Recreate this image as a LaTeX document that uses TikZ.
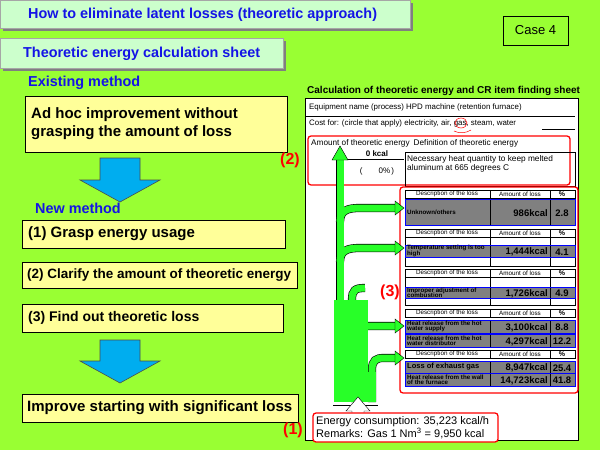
\documentclass[tikz,border=0pt]{standalone}
\usepackage{fontspec}
\setmainfont{Liberation Sans}
\usetikzlibrary{arrows.meta}
\definecolor{bg}{RGB}{153,255,51}
\definecolor{mint}{RGB}{204,255,204}
\definecolor{lyel}{RGB}{255,255,153}
\definecolor{tblue}{RGB}{20,20,230}
\definecolor{pipe}{RGB}{40,255,40}
\definecolor{cellg}{RGB}{128,128,128}
\newcommand{\fs}[1]{\fontsize{#1}{#1}\selectfont}
\tikzset{
 titlebox/.style={draw=gray!70,fill=mint,line width=0.6pt},
 stepbox/.style={draw=black,fill=lyel,line width=0.6pt},
 bluetxt/.style={text=tblue,font=\fs{14.4}\bfseries,anchor=west,inner sep=0},
 steptxt/.style={font=\fs{15}\bfseries,anchor=west,inner sep=0},
 redbox/.style={draw=red,line width=1.3pt,rounded corners=3pt},
 redlab/.style={text=red,font=\fs{16}\bfseries,inner sep=0},
 small/.style={font=\fs{7.9},anchor=west,inner sep=0},
 hdr/.style={font=\fs{6.3},inner sep=0},
 cell/.style={font=\fs{6.2}\bfseries,anchor=west,inner sep=0,align=left},
 val/.style={font=\fs{9.5}\bfseries,inner sep=0},
 downarrow/.style={draw=gray!60!black,fill=cyan,line width=0.6pt},
 pipeline/.style={pipe,line width=7pt},
}
\begin{document}
\begin{tikzpicture}[x=1pt,y=-1pt]
\useasboundingbox (0,0) rectangle (600,450);
\fill[bg] (0,0) rectangle (600,450);
% title boxes
\fill[gray] (3,3) rectangle (413,31);
\draw[titlebox] (0,0) rectangle (410,28);
\node[bluetxt] (t1) at (28,15) {How to eliminate latent losses (theoretic approach)};
\fill[gray] (3,41) rectangle (286,71);
\draw[titlebox] (0,38) rectangle (283,68);
\node[bluetxt] (t2) at (23,54) {Theoretic energy calculation sheet};
\draw[line width=0.8pt] (503,16) rectangle (568,45);
\node[font=\fs{13},inner sep=0] (case) at (535.5,30.5) {Case 4};
% left column
\node[bluetxt] (ex) at (28,83) {Existing method};
\draw[stepbox] (25,96) rectangle (287,152);
\node[steptxt,align=left] (adhoc) at (31,124) {Ad hoc improvement without\\[3pt]grasping the amount of loss};
\draw[downarrow] (100,158) -- (140,158) -- (140,180) -- (160,180) -- (120,202) -- (80,180) -- (100,180) -- cycle;
\node[bluetxt] (nm) at (35,208) {New method};
\draw[stepbox] (22,220) rectangle (285,248);
\node[steptxt] (s1) at (28,234) {(1) Grasp energy usage};
\draw[stepbox] (22,262) rectangle (297,288);
\node[steptxt,font=\fs{13.5}\bfseries] (s2) at (27,275) {(2) Clarify the amount of theoretic energy};
\draw[stepbox] (22,304) rectangle (283,332);
\node[steptxt,font=\fs{14}\bfseries] (s3) at (28,318) {(3) Find out theoretic loss};
\draw[downarrow] (100,340) -- (140,340) -- (140,361) -- (160,361) -- (120,383) -- (80,361) -- (100,361) -- cycle;
\draw[stepbox] (22,394) rectangle (298,422);
\node[steptxt] (s4) at (27,408) {Improve starting with significant loss};
% sheet
\node[font=\fs{10}\bfseries,anchor=west,inner sep=0] (st) at (307,91) {Calculation of theoretic energy and CR item finding sheet};
\draw[fill=white,line width=0.6pt] (305,98) rectangle (578,440);
\node[small] (eq) at (309,107) {Equipment name (process) HPD machine (retention furnace)};
\draw (305,116) -- (575,116);
\node[small] (cost) at (309,123) {Cost for: (circle that apply) electricity, air, gas, steam, water};
\draw[red,line width=0.5pt] (461,123) ellipse (6pt and 5pt);
\draw[red,line width=0.5pt] (454,131) .. controls (460,134) and (466,133) .. (471,130);
\draw (542,129) -- (575,129);
\draw[redbox] (308,136) rectangle (570,185);
\node[redlab] (l2) at (290,160) {(2)};
\node[small,font=\fs{8.2}] (am) at (311,143) {Amount of theoretic energy\enspace Definition of theoretic energy};
\node[font=\fs{8}\bfseries,inner sep=0] (kc) at (377,154) {0 kcal};
\draw (348,159) -- (404,159);
\node[font=\fs{8},inner sep=0] (pc) at (377,171) {(\qquad 0\%\,)};
\draw (405,152) rectangle (575,186);
\node[small,font=\fs{8.3},align=left] (def) at (407,164) {Necessary heat quantity to keep melted\\aluminum at 665 degrees C};
% tables
\def\hdrrow#1{\draw[fill=white] (405,#1) rectangle (490,#1+8) (490,#1) rectangle (550,#1+8) (550,#1) rectangle (575,#1+8);
 \node[hdr] at (447,#1+4) {Description of the loss};
 \node[hdr] at (520,#1+4) {Amount of loss};
 \node[hdr,font=\fs{7}\bfseries] at (562,#1+4) {\%};}
\def\datarow#1#2#3#4#5{\fill[cellg] (405,#1) rectangle (575,#1+#2);
 \draw (490,#1) -- (490,#1+#2) (550,#1) -- (550,#1+#2);
 \draw[blue,line width=0.7pt] (405,#1) rectangle (575,#1+#2);
 \node[cell] at (407,#1+#2/2) {#3};
 \node[val,anchor=east] at (548,#1+#2/2+1) {#4};
 \node[val] at (562,#1+#2/2+1) {#5};}
\hdrrow{190}
\datarow{199}{26}{Unknown/others}{986kcal}{2.8}
\hdrrow{229}
\draw (405,237) rectangle (575,266) (490,237) -- (490,266) (550,237) -- (550,266);
\datarow{245}{12}{Temperature setting is too\\[-1pt]high}{1,444kcal}{4.1}
\hdrrow{269}
\draw (405,277) rectangle (575,305) (490,277) -- (490,305) (550,277) -- (550,305);
\datarow{287}{11}{Improper adjustment of\\[-1pt]combustion}{1,726kcal}{4.9}
\hdrrow{309}
\datarow{320}{13}{Heat release from the hot\\[-1pt]water supply}{3,100kcal}{8.8}
\datarow{334}{13}{Heat release from the hot\\[-1pt]water distributor}{4,297kcal}{12.2}
\hdrrow{350}
\datarow{361}{12}{\fs{7.5}\bfseries Loss of exhaust gas}{8,947kcal}{25.4}
\datarow{373}{13}{Heat release from the wall\\[-1pt]of the furnace}{14,723kcal}{41.8}
\draw[redbox] (400,187) rectangle (578,393);
\node[redlab] (l3) at (390,292) {(3)};
% pipes
\tikzset{pipeo/.style={black,line width=8.2pt}}
\foreach \st in {pipeo,pipeline}{
 \draw[\st] (340,160) -- (340,402);
 \draw[\st] (340,222) .. controls (340,210) and (348,208) .. (360,208) -- (395,208);
 \draw[\st] (340,262) .. controls (340,250) and (348,248) .. (360,248) -- (395,248);
 \draw[\st] (352,300) .. controls (352,290) and (355,288) .. (365,288);
 \draw[\st] (355,402) -- (355,340) .. controls (355,330) and (360,326) .. (370,326) -- (397,326);
 \draw[\st] (372,402) -- (372,370) .. controls (372,360) and (376,358) .. (384,358) -- (397,358);
}
\fill[pipe] (334,300) rectangle (368,402);
\fill[pipe] (334,372) rectangle (376,402);
\draw (333,405) -- (378,405);
\fill[pipe,draw=black] (332,160) -- (340,146) -- (348,160) -- cycle;
\foreach \yy in {208,248,326,358}{\fill[pipe,draw=black] (395,\yy-7) -- (404,\yy) -- (395,\yy+7) -- cycle;}
\fill[white,draw=black] (352,420) -- (352,411) -- (346,411) -- (358,397) -- (370,411) -- (364,411) -- (364,420) -- cycle;
% energy box
\draw[redbox,fill=white] (313,413) rectangle (498,442);
\node[small,font=\fs{11},align=left] (en) at (316,427.5) {Energy consumption: 35,223 kcal/h\\Remarks: Gas 1 Nm\textsuperscript{3} = 9,950 kcal};
\node[redlab] (l1) at (293,430) {(1)};
\end{tikzpicture}
\end{document}
